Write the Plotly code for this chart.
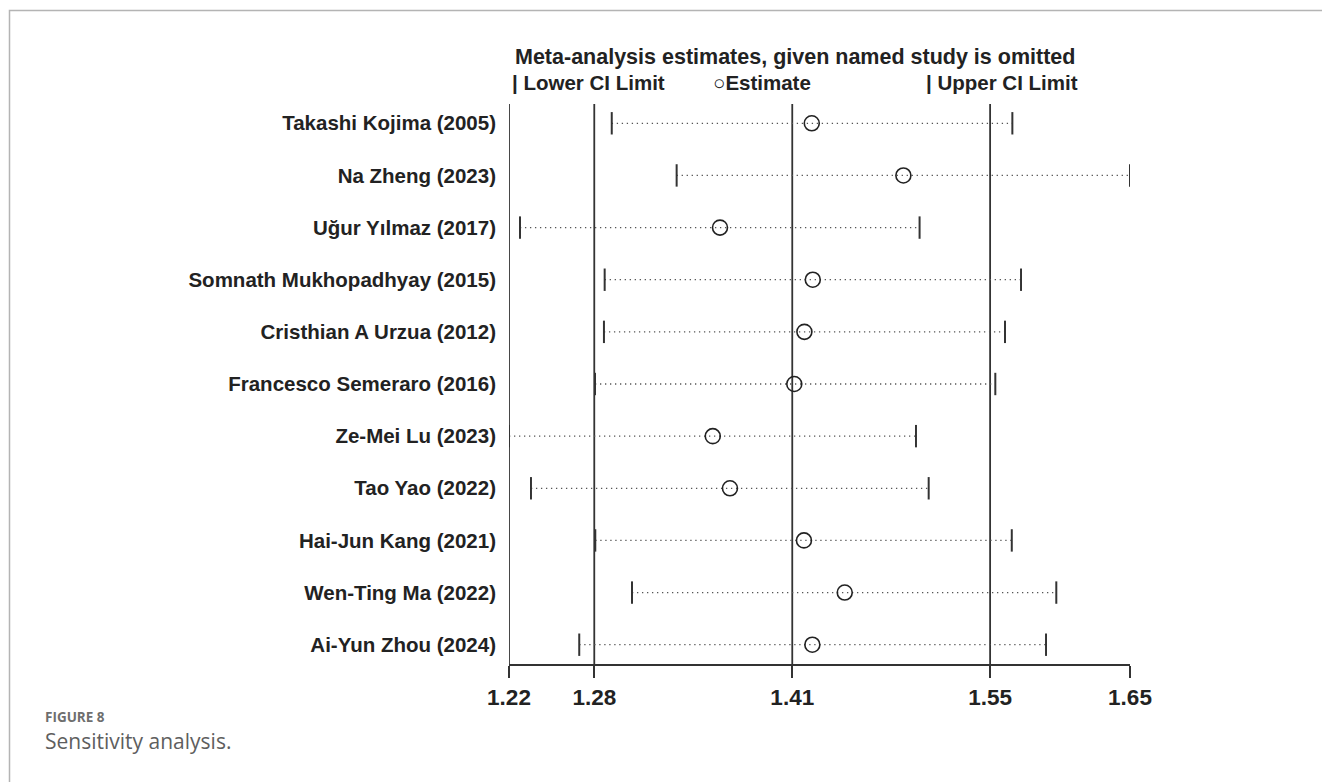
import plotly.graph_objects as go

# Leave-one-out sensitivity analysis: pooled estimate with each study omitted
studies = [
    "Takashi Kojima (2005)",
    "Na Zheng (2023)",
    "Uğur Yılmaz (2017)",
    "Somnath Mukhopadhyay (2015)",
    "Cristhian A Urzua (2012)",
    "Francesco Semeraro (2016)",
    "Ze-Mei Lu (2023)",
    "Tao Yao (2022)",
    "Hai-Jun Kang (2021)",
    "Wen-Ting Ma (2022)",
    "Ai-Yun Zhou (2024)",
]
estimate = [1.4270, 1.4904, 1.3635, 1.4277, 1.4219, 1.4149, 1.3585, 1.3704, 1.4216, 1.4498, 1.4274]
lower_ci = [1.2886, 1.3335, 1.2251, 1.2837, 1.2832, 1.2770, 1.2175, 1.2327, 1.2772, 1.3026, 1.2661]
upper_ci = [1.5658, 1.6472, 1.5016, 1.5718, 1.5607, 1.5540, 1.4991, 1.5079, 1.5654, 1.5962, 1.5891]

# Full-data pooled estimate and its confidence limits
overall_lower = 1.2765
overall_est = 1.4135
overall_upper = 1.5504

axis_min = min(lower_ci)
axis_max = max(upper_ci)
tick_vals = [axis_min, overall_lower, overall_est, overall_upper, axis_max]
tick_text = ["1.22", "1.28", "1.41", "1.55", "1.65"]

W, H = 1322, 782
ML, MR, MT, MB = 509, 192, 104, 118
PW, PH = W - ML - MR, H - MT - MB

def px_x(p):
    return (p - ML) / PW

def px_y(p):
    return (H - MB - p) / PH

ink = "#333333"
sans = "Liberation Sans, Arial, sans-serif"
text_col = "#222222"
cat_font = dict(family=sans, size=20.5, color=text_col, weight="bold")
tick_font = dict(family=sans, size=22.5, color=text_col, weight="bold")
head_font = dict(family=sans, size=21.5, color=text_col, weight="bold")
key_font = dict(family=sans, size=20.5, color=text_col, weight="bold")

fig = go.Figure()

# dotted span from lower to upper limit for each omitted-study analysis
seg_x, seg_y = [], []
for s, lo, hi in zip(studies, lower_ci, upper_ci):
    seg_x += [lo, hi, None]
    seg_y += [s, s, None]
fig.add_trace(go.Scatter(
    x=seg_x, y=seg_y, mode="lines",
    line=dict(color="#555555", width=1.3, dash="1.3px,3.7px"),
    hoverinfo="skip", showlegend=False,
))

# CI limit bars
fig.add_trace(go.Scatter(
    x=lower_ci + upper_ci, y=studies + studies, mode="markers",
    marker=dict(symbol="line-ns", size=16, line=dict(color=ink, width=2)),
    showlegend=False,
))

# point estimates
fig.add_trace(go.Scatter(
    x=estimate, y=studies, mode="markers",
    marker=dict(symbol="circle-open", size=15, color="#222222", line=dict(width=1.6)),
    showlegend=False,
))

# reference lines at the pooled limits and estimate, plus left edge
for v in [axis_min, overall_lower, overall_est, overall_upper]:
    fig.add_shape(type="line", xref="x", yref="paper", x0=v, x1=v, y0=0, y1=1,
                  line=dict(color=ink, width=1.8), layer="below")

# outer frame of the figure panel
fig.add_shape(type="rect", xref="paper", yref="paper",
              x0=px_x(9.5), x1=px_x(1340), y0=px_y(800), y1=px_y(10.5),
              line=dict(color="#b4b4b4", width=1.5))

annotations = [
    dict(text="Meta-analysis estimates, given named study is omitted",
         x=px_x(513), y=px_y(57), font=head_font),
    dict(text="| Lower CI Limit", x=px_x(510), y=px_y(83), font=key_font),
    dict(text="○Estimate", x=px_x(711), y=px_y(83), font=key_font),
    dict(text="| Upper CI Limit", x=px_x(924), y=px_y(83), font=key_font),
]
for a in annotations:
    a.update(xref="paper", yref="paper", showarrow=False, xanchor="left", yanchor="middle")

annotations += [
    dict(text="<b>FIGURE 8</b>", x=px_x(43), y=px_y(717), xref="paper", yref="paper",
         xanchor="left", yanchor="middle", showarrow=False,
         font=dict(family="Open Sans, Lato, sans-serif", size=13.5, color="#6e6e6e")),
    dict(text="Sensitivity analysis.", x=px_x(43), y=px_y(741), xref="paper", yref="paper",
         xanchor="left", yanchor="middle", showarrow=False,
         font=dict(family="Open Sans, Lato, sans-serif", size=21, color="#5e5e5e")),
]

n = len(studies)
fig.update_layout(
    width=W, height=H,
    margin=dict(l=ML, r=MR, t=MT, b=MB),
    paper_bgcolor="white", plot_bgcolor="white",
    annotations=annotations,
    xaxis=dict(
        range=[axis_min, axis_max], tickvals=tick_vals, ticktext=tick_text,
        showgrid=False, zeroline=False, showline=True, linecolor=ink, linewidth=1.8,
        ticks="outside", ticklen=12, tickwidth=1.8, tickcolor=ink,
        tickfont=tick_font,
    ),
    yaxis=dict(
        type="category", categoryorder="array", categoryarray=studies,
        range=[n - 1 + 0.37, -0.37],
        showgrid=False, zeroline=False, showline=False,
        ticks="", ticklabelstandoff=12, tickfont=cat_font,
    ),
)

fig.write_html("out.html")
